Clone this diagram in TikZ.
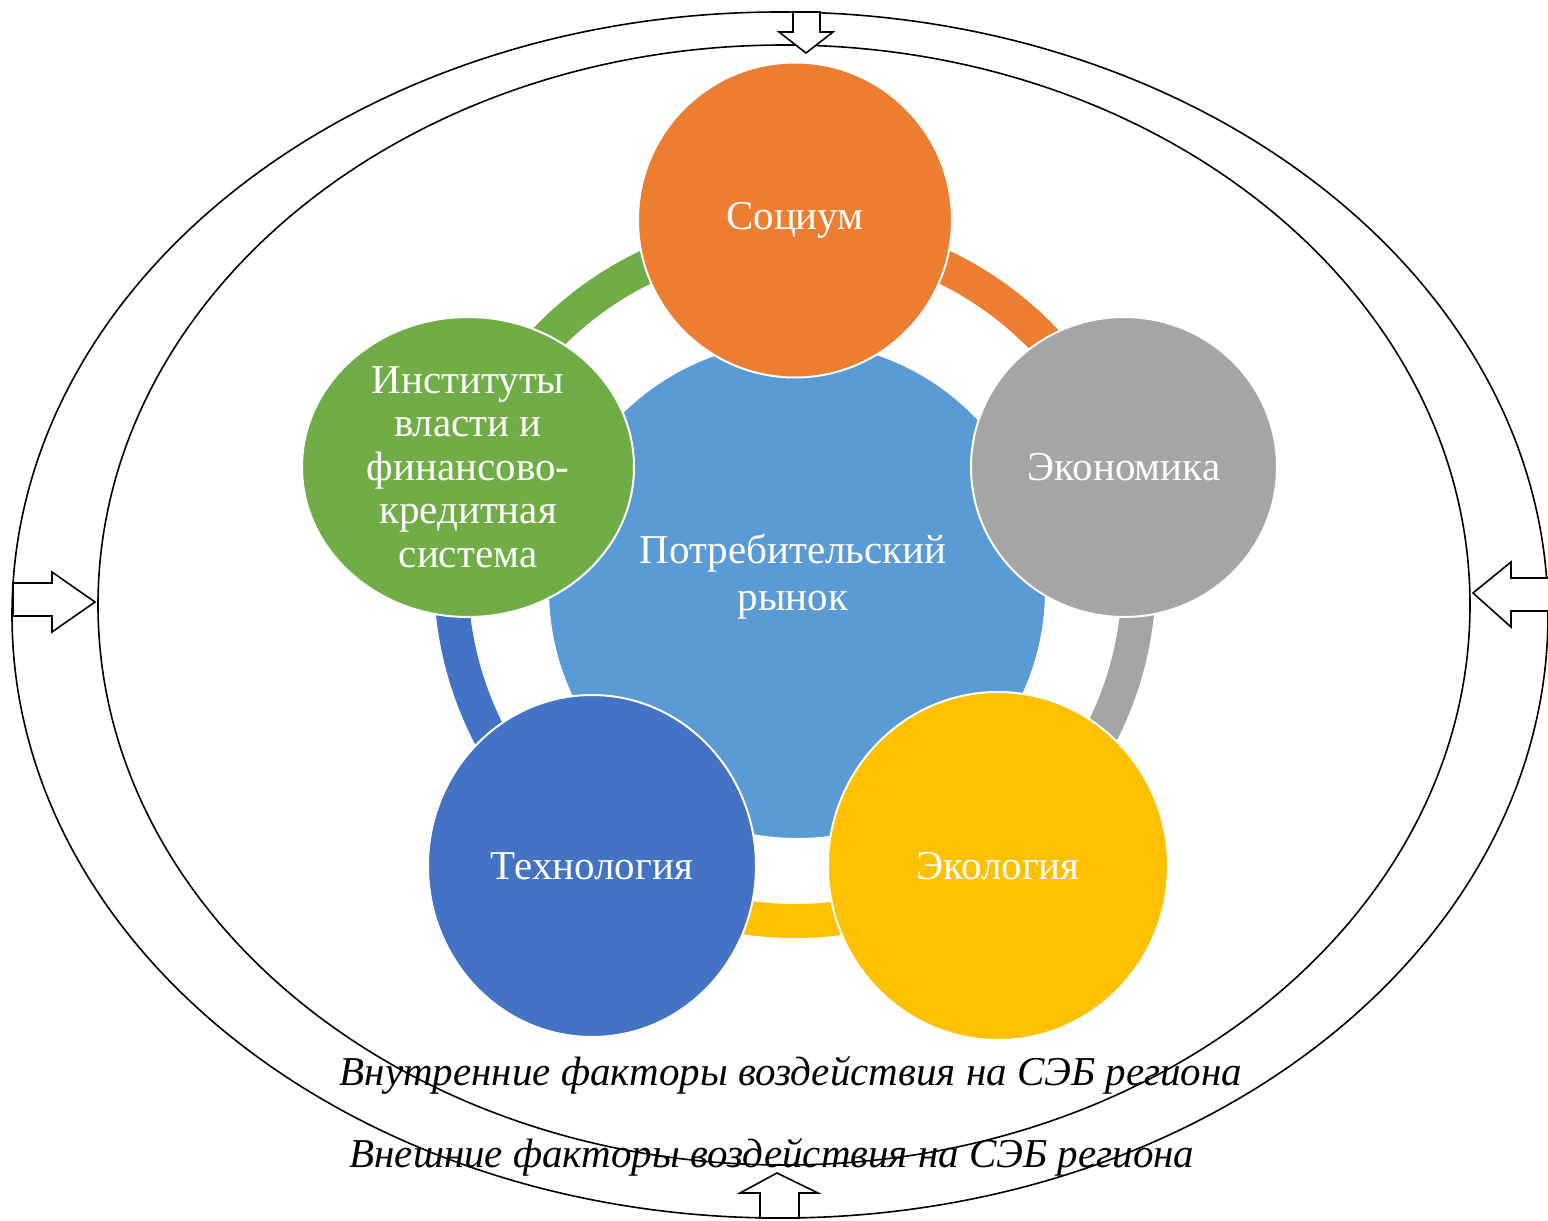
\documentclass[tikz,border=0pt]{standalone}
\usepackage{fontspec}
\setmainfont{Liberation Serif}
\usetikzlibrary{shapes.geometric}
\definecolor{cOrange}{HTML}{ED7D31}
\definecolor{cGray}{HTML}{A5A5A5}
\definecolor{cYellow}{HTML}{FFC000}
\definecolor{cDBlue}{HTML}{4472C4}
\definecolor{cGreen}{HTML}{70AD47}
\definecolor{cLBlue}{HTML}{5B9BD5}
\begin{document}
\begin{tikzpicture}[x=0.5pt,y=-0.5pt,
  bub/.style={ellipse, draw=white, line width=1pt, text=white, inner sep=0pt,
    align=center, font=\fontsize{20.5}{21.75}\selectfont},
  ringarc/.style={line width=17pt},
  blockarrow/.style={draw=black, line width=0.8pt, fill=white, line join=miter},
  outline/.style={draw=black, line width=0.8pt},
  factor/.style={font=\fontsize{20.5}{24}\selectfont\itshape, text=black, inner sep=0pt}]
\useasboundingbox (0,0) rectangle (1548,1221);

% outer and inner ellipses
\draw[outline] (780,615) ellipse[x radius=768, y radius=603];
\draw[outline] (784,605) ellipse[x radius=686, y radius=560];

% ring arcs
\coordinate (ring) at (795,577);
\draw[ringarc, cOrange] ([shift={(-90:344)}]ring) arc[start angle=-90, end angle=-18.5, radius=344];
\draw[ringarc, cGray] ([shift={(-18.5:344)}]ring) arc[start angle=-18.5, end angle=54.9, radius=344];
\draw[ringarc, cYellow] ([shift={(54.9:344)}]ring) arc[start angle=54.9, end angle=125.1, radius=344];
\draw[ringarc, cDBlue] ([shift={(125.1:344)}]ring) arc[start angle=125.1, end angle=198.6, radius=344];
\draw[ringarc, cGreen] ([shift={(198.6:344)}]ring) arc[start angle=198.6, end angle=270, radius=344];

% centre
\node[bub, fill=cLBlue, minimum width=249pt, minimum height=249pt, font=\fontsize{20.5}{23.5}\selectfont] (market) at (797,590) {};
\node[text=white, align=center, font=\fontsize{20.5}{23.5}\selectfont, inner sep=0pt] (marketlabel) at (793,577) {Потребительский\\рынок};

% satellites
\node[bub, fill=cOrange, minimum width=157pt, minimum height=157.5pt] (soc) at (795,220) {Социум};
\node[bub, fill=cGray, minimum width=153pt, minimum height=150pt] (eco) at (1124,467) {Экономика};
\node[bub, fill=cYellow, minimum width=170pt, minimum height=174pt] (ecol) at (998,866) {Экология};
\node[bub, fill=cDBlue, minimum width=164pt, minimum height=171pt] (tech) at (592,866) {Технология};
\node[bub, fill=cGreen, minimum width=166pt, minimum height=150pt] (inst) at (468,467) {Институты\\власти и\\финансово-\\кредитная\\система};

% block arrows
\draw[blockarrow] (793,12) -- (820,12) -- (820,32) -- (833,32) -- (806,53) -- (779,32) -- (793,32) -- cycle;
\draw[blockarrow] (13,583) -- (52,583) -- (52,572) -- (95,602) -- (52,632) -- (52,616) -- (13,616) -- cycle;
\draw[blockarrow] (1550,578) -- (1511,578) -- (1511,562) -- (1473,593) -- (1511,627) -- (1511,611) -- (1550,611) -- cycle;
\draw[blockarrow] (760,1218) -- (760,1193) -- (740,1193) -- (777,1173) -- (818,1193) -- (799,1193) -- (799,1218) -- cycle;

% labels
\node[factor] (innerf) at (791,1075) {Внутренние факторы воздействия на СЭБ региона};
\node[factor] (outerf) at (772,1157) {Внешние факторы воздействия на СЭБ региона};
\end{tikzpicture}
\end{document}
